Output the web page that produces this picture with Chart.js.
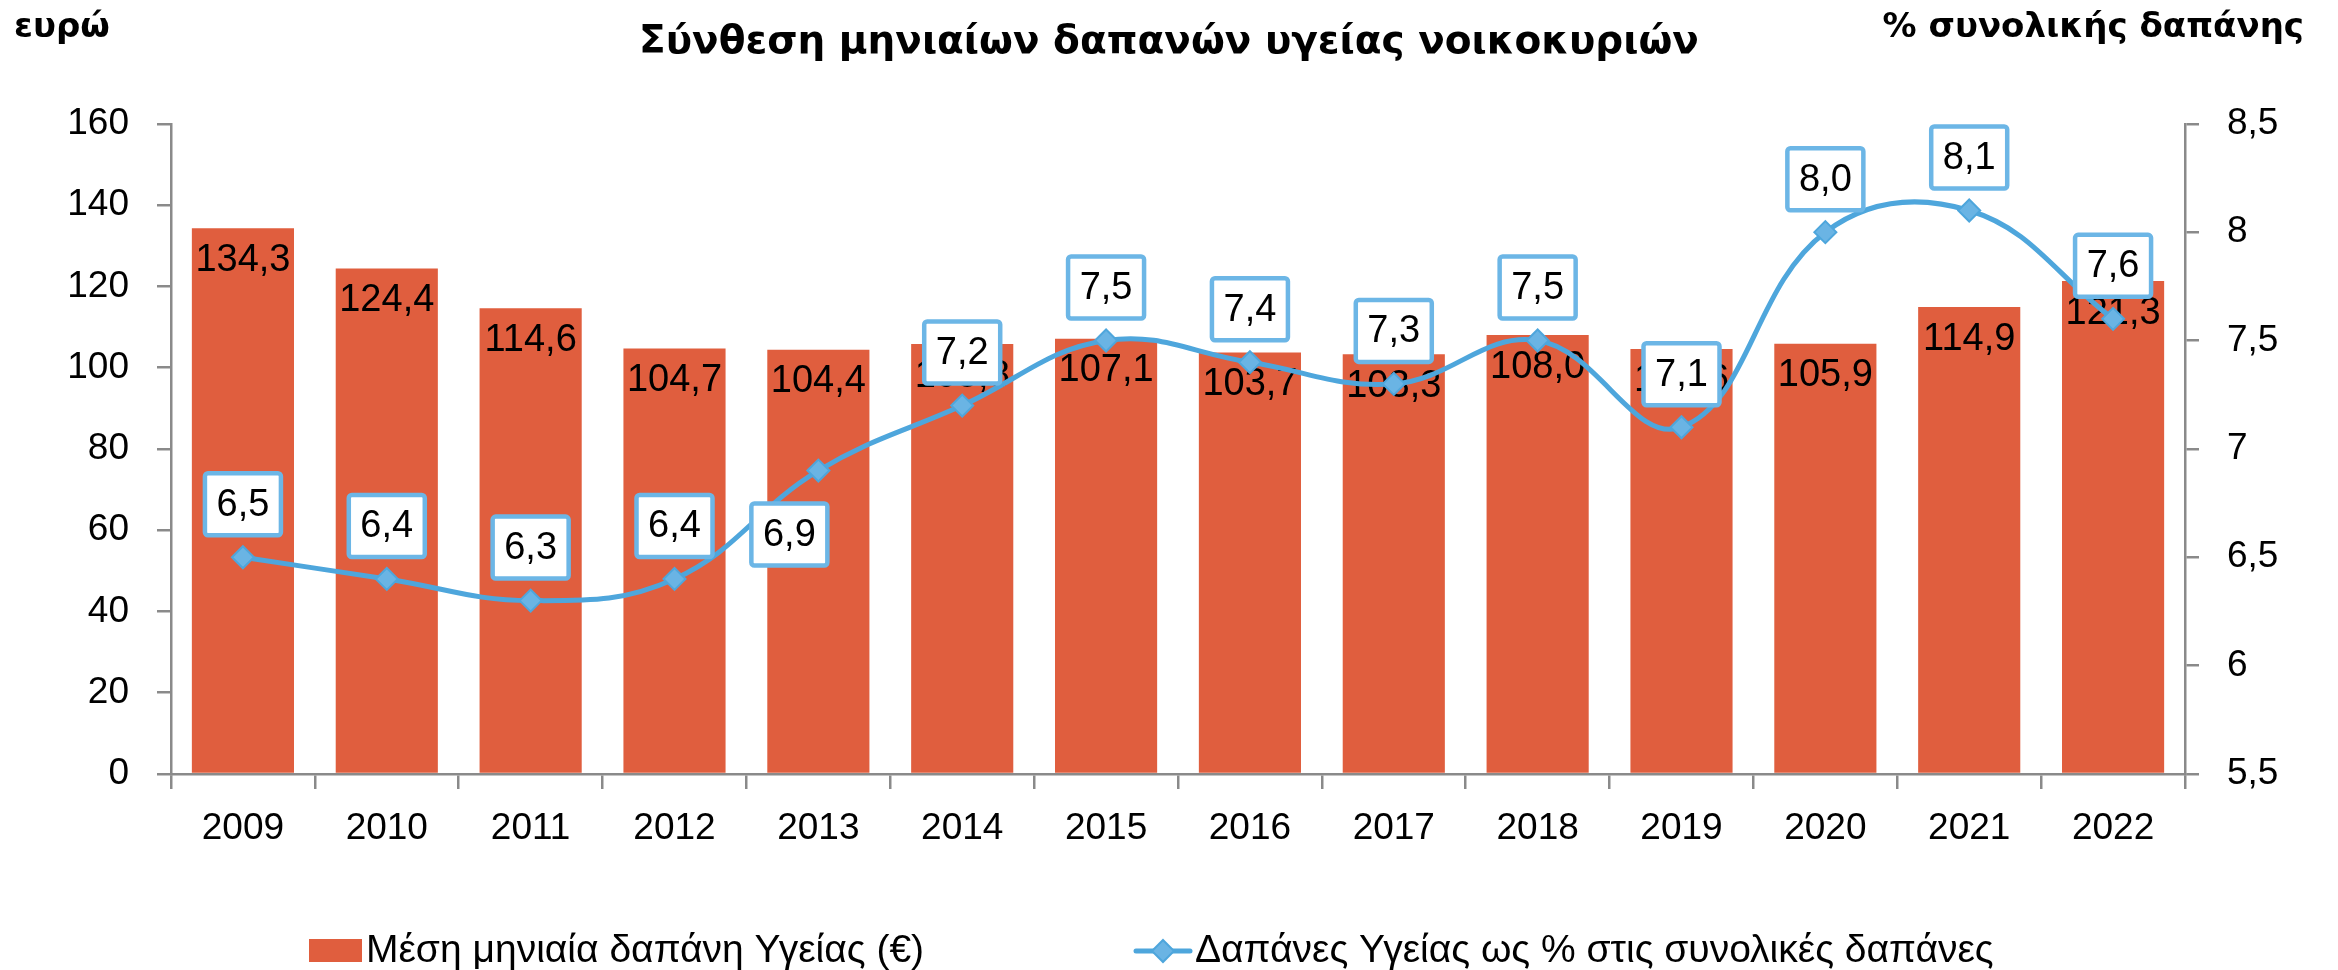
<!DOCTYPE html>
<html lang="el">
<head>
<meta charset="utf-8">
<title>Σύνθεση μηνιαίων δαπανών υγείας νοικοκυριών</title>
<script src="https://cdn.jsdelivr.net/npm/chart.js@4.4.1/dist/chart.umd.min.js"></script>
<style>
    html, body { margin: 0; padding: 0; background: #fff; }
    #wrap { position: relative; width: 2338px; height: 970px; }
</style>
</head>
<body>
<div id="wrap"><canvas id="chartSalud"></canvas></div>
<script>
// Δεδομένα
const years = ['2009', '2010', '2011', '2012', '2013', '2014', '2015', '2016', '2017', '2018', '2019', '2020', '2021', '2022'];
const spendEuro = [134.3, 124.4, 114.6, 104.7, 104.4, 105.8, 107.1, 103.7, 103.3, 108.0, 104.6, 105.9, 114.9, 121.3];
const sharePct = [6.5, 6.4, 6.3, 6.4, 6.9, 7.2, 7.5, 7.4, 7.3, 7.5, 7.1, 8.0, 8.1, 7.6];
const leftTicks = [0, 20, 40, 60, 80, 100, 120, 140, 160];
const rightTicks = [5.5, 6, 6.5, 7, 7.5, 8, 8.5];

const FONT = "'Liberation Sans', Arial, sans-serif";
const BOLD_FONT = "'DejaVu Sans', 'Liberation Sans', sans-serif";
const FS = 37;
const AXIS_GREY = '#8a8a8a';
const BAR_RED = '#e05e3e';
const LINE_BLUE = '#4ea6dc';
const BOX_BLUE = '#6cb6e6';

const comma = (v, d) => (d === undefined ? String(v) : v.toFixed(d)).replace('.', ',');

// Texto de los ejes arriba
const axisCaptions = {
    id: 'axisCaptions',
    afterDraw(chart) {
        const ctx = chart.ctx;
        ctx.save();
        ctx.fillStyle = '#000';
        ctx.font = `bold 34px ${BOLD_FONT}`;
        ctx.textBaseline = 'middle';
        ctx.textAlign = 'left';
        ctx.fillText('ευρώ', 14, 28);
        ctx.textAlign = 'right';
        ctx.fillText('% συνολικής δαπάνης', 2304, 28);
        ctx.restore();
    }
};

// Etiquetas dentro de las barras
const barLabels = {
    id: 'barLabels',
    afterDatasetDraw(chart, args) {
        if (args.index !== 0) return;
        const ctx = chart.ctx;
        ctx.save();
        ctx.font = `38px ${FONT}`;
        ctx.fillStyle = '#000';
        ctx.textAlign = 'center';
        ctx.textBaseline = 'middle';
        args.meta.data.forEach((bar, i) => {
            ctx.fillText(comma(spendEuro[i], 1), bar.x, bar.y + 32);
        });
        ctx.restore();
    }
};

// Etiquetas de la línea en cajas
const lineLabels = {
    id: 'lineLabels',
    afterDatasetsDraw(chart) {
        const meta = chart.getDatasetMeta(1);
        const ctx = chart.ctx;
        const w = 76, h = 62;
        ctx.save();
        ctx.font = `38px ${FONT}`;
        ctx.textAlign = 'center';
        ctx.textBaseline = 'middle';
        meta.data.forEach((pt, i) => {
            let cx = pt.x, cy = pt.y - 53;
            if (i === 4) { cx = pt.x - 29; cy = pt.y + 64; }
            ctx.fillStyle = '#fff';
            ctx.strokeStyle = BOX_BLUE;
            ctx.lineWidth = 4.5;
            ctx.beginPath();
            ctx.roundRect(cx - w / 2, cy - h / 2, w, h, 3);
            ctx.fill();
            ctx.stroke();
            ctx.fillStyle = '#000';
            ctx.fillText(comma(sharePct[i], 1), cx, cy + 1);
        });
        ctx.restore();
    }
};

// Leyenda abajo
const bottomLegend = {
    id: 'bottomLegend',
    afterDraw(chart) {
        const ctx = chart.ctx;
        const ds = chart.data.datasets;
        const y = 951;
        ctx.save();
        ctx.font = `39px ${FONT}`;
        ctx.textBaseline = 'middle';
        ctx.textAlign = 'left';

        // barra
        let x = 309;
        ctx.fillStyle = ds[0].backgroundColor;
        ctx.fillRect(x, y - 12, 53, 23);
        ctx.fillStyle = '#000';
        ctx.fillText(ds[0].label, x + 57, y);

        // línea
        x = 1134;
        ctx.strokeStyle = ds[1].borderColor;
        ctx.lineWidth = 5;
        ctx.lineCap = 'round';
        ctx.beginPath();
        ctx.moveTo(x + 2, y);
        ctx.lineTo(x + 56, y);
        ctx.stroke();
        const cx = x + 29, r = 11;
        ctx.fillStyle = ds[1].pointBackgroundColor;
        ctx.strokeStyle = ds[1].pointBorderColor;
        ctx.lineWidth = 2;
        ctx.beginPath();
        ctx.moveTo(cx, y - r); ctx.lineTo(cx + r, y); ctx.lineTo(cx, y + r); ctx.lineTo(cx - r, y);
        ctx.closePath();
        ctx.fill();
        ctx.stroke();
        ctx.fillStyle = '#000';
        ctx.fillText(ds[1].label, x + 61, y);
        ctx.restore();
    }
};

const ctx = document.getElementById('chartSalud').getContext('2d');
new Chart(ctx, {
    data: {
        labels: years,
        datasets: [{
            type: 'bar',
            label: 'Μέση μηνιαία δαπάνη Υγείας (€)',
            data: spendEuro,
            backgroundColor: BAR_RED,
            borderWidth: 0,
            barPercentage: 0.71,
            categoryPercentage: 1,
            yAxisID: 'y',
            order: 2
        }, {
            type: 'line',
            label: 'Δαπάνες Υγείας ως % στις συνολικές δαπάνες',
            data: sharePct,
            borderColor: LINE_BLUE,
            borderWidth: 5,
            tension: 0.4,
            pointStyle: 'rectRot',
            pointRadius: 11,
            pointBackgroundColor: '#6ab4e4',
            pointBorderColor: LINE_BLUE,
            pointBorderWidth: 2,
            yAxisID: 'y2',
            order: 1
        }]
    },
    options: {
        responsive: true,
        maintainAspectRatio: false,
        animation: false,
        layout: { padding: { left: 0, right: 0, top: 0, bottom: 0 } },
        plugins: {
            legend: { display: false },
            tooltip: { enabled: false },
            title: {
                display: true,
                text: 'Σύνθεση μηνιαίων δαπανών υγείας νοικοκυριών',
                color: '#000',
                font: { family: BOLD_FONT, size: 39, weight: 'bold', lineHeight: 1.2 },
                padding: { top: 19, bottom: 58 }
            }
        },
        scales: {
            x: {
                offset: true,
                grid: { offset: true, drawOnChartArea: false, drawTicks: true, tickLength: 15, color: AXIS_GREY, lineWidth: 2.5 },
                border: { color: AXIS_GREY, width: 2.5 },
                ticks: { color: '#000', font: { family: FONT, size: FS }, padding: 18, maxRotation: 0 },
                afterFit(s) { s.height = 196; }
            },
            y: {
                position: 'left',
                min: leftTicks[0],
                max: leftTicks[leftTicks.length - 1],
                afterBuildTicks(s) { s.ticks = leftTicks.map(v => ({ value: v })); },
                grid: { drawOnChartArea: false, tickLength: 14, color: AXIS_GREY, lineWidth: 2.5 },
                border: { color: AXIS_GREY, width: 2.5 },
                ticks: { color: '#000', font: { family: FONT, size: FS }, padding: 28 },
                afterFit(s) { s.width = 171; }
            },
            y2: {
                position: 'right',
                min: rightTicks[0],
                max: rightTicks[rightTicks.length - 1],
                afterBuildTicks(s) { s.ticks = rightTicks.map(v => ({ value: v })); },
                grid: { drawOnChartArea: false, tickLength: 14, color: AXIS_GREY, lineWidth: 2.5 },
                border: { color: AXIS_GREY, width: 2.5 },
                ticks: { color: '#000', font: { family: FONT, size: FS }, padding: 28, callback: v => comma(v) },
                afterFit(s) { s.width = 153; }
            }
        }
    },
    plugins: [axisCaptions, barLabels, lineLabels, bottomLegend]
});
</script>
</body>
</html>
